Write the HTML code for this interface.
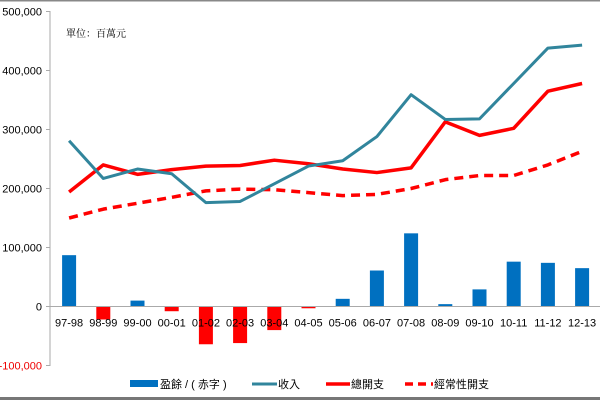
<!DOCTYPE html>
<html><head><meta charset="utf-8"><style>
body{margin:0;background:#fff}
svg{display:block;font-family:"Liberation Sans","Noto Sans CJK TC",sans-serif}
</style></head><body>
<svg id="c" width="600" height="400">
<rect x="0" y="0" width="600" height="1.5" fill="#888"/>
<rect x="0" y="397" width="600" height="3" fill="#777"/>
<line x1="50" y1="11" x2="50" y2="366" stroke="#aaa"/>
<text x="66" y="37" font-size="10" font-family="'Noto Serif CJK SC','Noto Sans CJK TC',serif">單位：百萬元</text>
<g id="bars"></g><g id="lines"></g><g id="axes"></g>
<g>
<rect x="130" y="380" width="28" height="7" fill="#0070c0"/>
<text x="160" y="388" font-size="11">盈餘 / ( 赤字 )</text>
<line x1="252" y1="384" x2="277" y2="384" stroke="#31859c" stroke-width="3"/>
<text x="278" y="388" font-size="11">收入</text>
<line x1="326" y1="384" x2="350" y2="384" stroke="#f00" stroke-width="3.5"/>
<text x="351" y="388" font-size="11">總開支</text>
<line x1="405" y1="384" x2="433" y2="384" stroke="#f00" stroke-width="3.5" stroke-dasharray="8,5"/>
<text x="434" y="388" font-size="11">經常性開支</text>
</g>
</svg>
<script>
const categories=["97-98","98-99","99-00","00-01","01-02","02-03","03-04","04-05","05-06","06-07","07-08","08-09","09-10","10-11","11-12","12-13"];
const surplus=[87000,-22000,10000,-8000,-64000,-62000,-40000,-3000,13000,61000,124000,4000,29000,76000,74000,65000];
const revenue=[281000,217000,233000,225000,176000,178000,208000,238000,247000,288000,359000,317000,318000,378000,438000,443000];
const totalExp=[194000,240000,224000,232000,238000,239000,248000,242000,233000,227000,235000,313000,290000,302000,365000,378000];
const recurrentExp=[150000,165000,175000,185000,196000,199000,198000,193000,188000,190000,200000,215000,222000,222000,240000,263000];
const yTicks=[-100000,0,100000,200000,300000,400000,500000];
const NS="http://www.w3.org/2000/svg";
const y=v=>306.5-v*59/100000;
const band=34.2,x0=52;
const x=i=>x0+band*(i+0.5);
function mk(t,a,p){const e=document.createElementNS(NS,t);for(const k in a)e.setAttribute(k,a[k]);document.getElementById(p).appendChild(e);return e;}
yTicks.forEach(v=>{
 const t=mk("text",{x:42,y:y(v)+4,"font-size":"11","text-anchor":"end",fill:v<0?"#e00":"#000"},"axes");
 
 
 t.textContent=v.toLocaleString("en-US");
 const l=mk("line",{x1:46,x2:50,y1:y(v),y2:y(v),stroke:"#aaa"},"axes");
 
 
});
const xa=mk("line",{x1:50,x2:600,y1:y(0),y2:y(0),stroke:"#aaa"},"axes");


categories.forEach((c,i)=>{
 const t=mk("text",{x:x(i),y:y(0)+20,"font-size":"11","text-anchor":"middle"},"axes");
 
 
 t.textContent=c;
 const v=surplus[i];
 const r=mk("rect",{x:x(i)-7,width:14,y:Math.min(y(v),y(0)),height:Math.abs(y(v)-y(0)),fill:v<0?"#f00":"#0070c0"},"bars");
 
 
});
function line(arr,col,w,dash,name){
 const p=mk("polyline",{points:arr.map((v,i)=>x(i)+","+y(v)).join(" "),fill:"none",stroke:col,"stroke-width":w,"stroke-linejoin":"round"},"lines");
 if(dash)p.setAttribute("stroke-dasharray",dash);
 
 
}
line(recurrentExp,"#f00",3.5,"9,6","recurrent-expenditure-line");
line(totalExp,"#f00",3.5,null,"total-expenditure-line");
line(revenue,"#31859c",3,null,"revenue-line");
</script>
</body></html>
